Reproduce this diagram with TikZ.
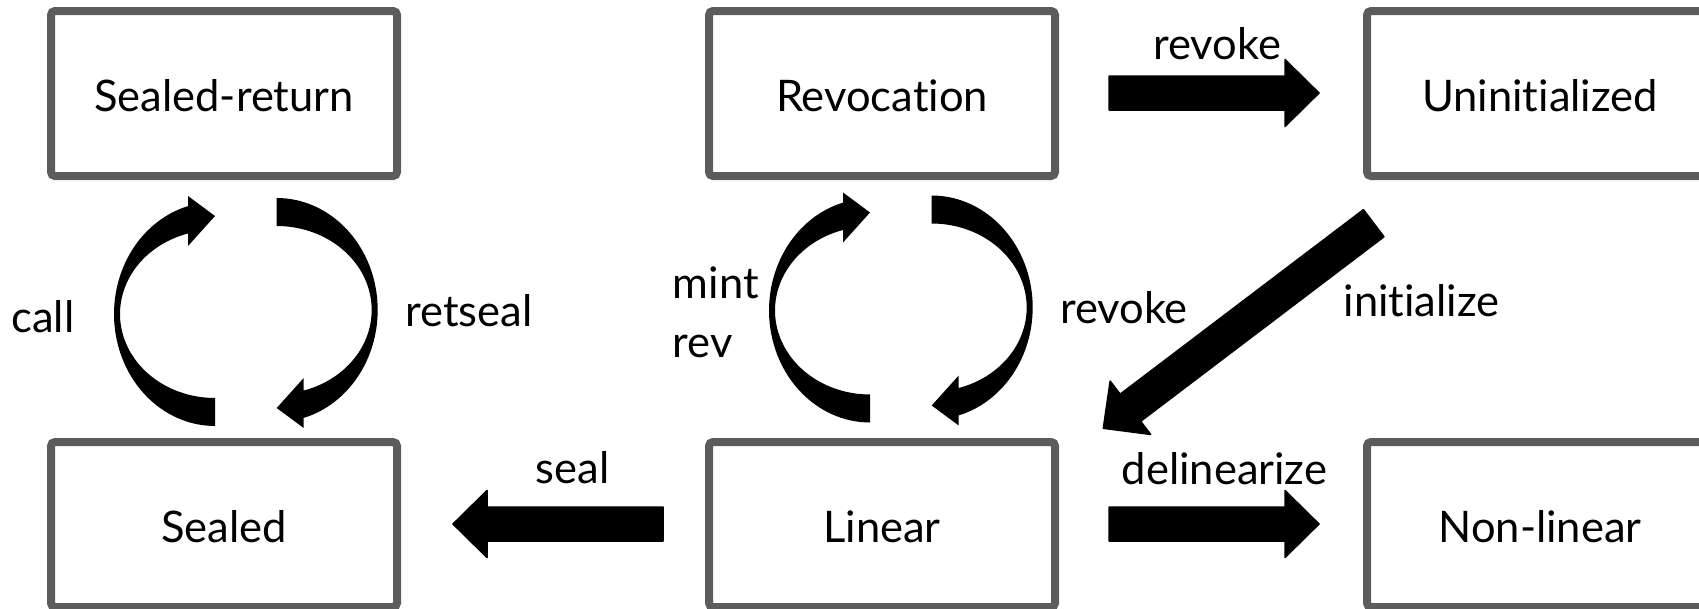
\documentclass[tikz,border=0pt]{standalone}
\usepackage{fontspec}
\setmainfont[Ligatures=NoCommon, RawFeature={-liga;-dlig}]{Lato}
\usetikzlibrary{calc}
\definecolor{boxgray}{RGB}{92,92,92}
\tikzset{
  every node/.style={font=\fontsize{43.5pt}{52pt}\selectfont},
  state/.style={draw=boxgray, line width=8pt, rounded corners=4pt,
    minimum width=346pt, minimum height=165pt, inner sep=0pt,
    text height=35pt, text depth=0pt},
  lbl/.style={anchor=base, inner sep=0pt},
  lblw/.style={anchor=base west, inner sep=0pt},
  % crescent-shaped curved arrow: tail at the bottom, head at the top pointing right
  cresc/.pic={
    \fill plot[domain=90:254.6, samples=60, variable=\t] ({101*cos(\t)}, {112*sin(\t)})
      -- (-27,-118) -- (0,-98) -- (-27,-68)
      -- plot[domain=253.5:90, samples=60, variable=\t] ({95*cos(\t)}, {84*sin(\t)})
      -- cycle;
  }
}
% thick block arrow from #1 to #2
\newcommand{\blockarrow}[2]{%
  \coordinate (h) at ($(#2)!34pt!(#1)$);
  \filldraw[line width=1.5pt, line join=round]
    ($(#1)!17pt!90:(#2)$) -- ($(h)!17pt!-90:(#1)$) -- ($(h)!33.5pt!-90:(#1)$)
    -- (#2) -- ($(h)!33.5pt!90:(#1)$) -- ($(h)!17pt!90:(#1)$)
    -- ($(#1)!17pt!-90:(#2)$) -- cycle;
}
\begin{document}
\begin{tikzpicture}[x=1pt, y=-1pt]
\useasboundingbox (0,0) rectangle (1699,608);
\clip (0,0) rectangle (1699,608);

% states
\node[state] (sealret)    at (224, 93.5)  {Sealed-return};
\node[state] (revocation) at (882, 93.5)  {Revocation};
\node[state] (uninit)     at (1540, 93.5) {Uninitialized};
\node[state] (sealed)     at (224, 524.5) {Sealed};
\node[state] (linear)     at (882, 524.5) {Linear};
\node[state] (nonlinear)  at (1540, 524.5) {Non-linear};

% straight transitions
\coordinate (revA)  at ($(revocation.east)+(50,-0.5)$);
\coordinate (revB)  at ($(uninit.west)+(-44,-0.5)$);
\coordinate (delA)  at ($(linear.east)+(50,-0.5)$);
\coordinate (delB)  at ($(nonlinear.west)+(-44,-0.5)$);
\coordinate (sealA) at ($(linear.west)+(-42,-0.5)$);
\coordinate (sealB) at ($(sealed.east)+(52,-0.5)$);
\coordinate (iniA)  at (1373.7,223.2);
\coordinate (iniB)  at (1103.3,428.3);
\blockarrow{revA}{revB}
\blockarrow{delA}{delB}
\blockarrow{sealA}{sealB}
\blockarrow{iniA}{iniB}

% loops between the two rows
\pic at (215,314) {cresc};
\pic[rotate=180] at (276.7,310) {cresc};
\pic at (870,310.5) {cresc};
\pic[rotate=180] at (931.7,307.5) {cresc};

% labels
\node[lbl] (lcall)    at (43,332)      {call};
\node[lbl] (lretseal) at (469,326)     {retseal};
\node[lblw] (lmint)   at (672.7,298)   {mint};
\node[lblw] (lrev)    at (672.7,357)   {rev};
\node[lbl] (lrevoke)  at (1124,323.3)  {revoke};
\node[lbl] (linit)    at (1421.5,316.7) {initialize};
\node[lbl] (lrevtop)  at (1217.4,59.3) {revoke};
\node[lbl] (lseal)    at (572.5,483.3) {seal};
\node[lbl] (ldelin)   at (1224.5,484.5) {delinearize};
\end{tikzpicture}
\end{document}
